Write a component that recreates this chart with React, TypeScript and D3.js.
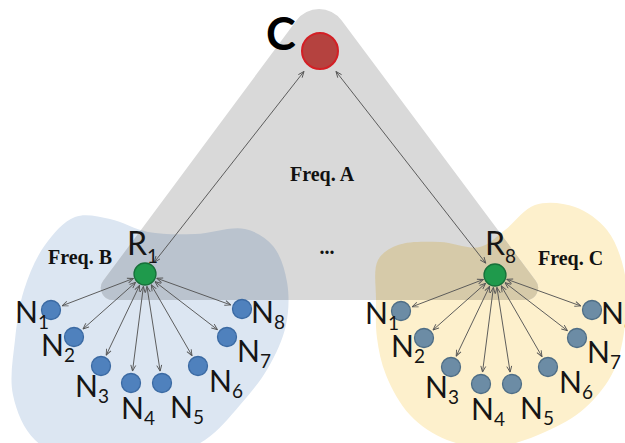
import React from 'react';
import * as d3 from 'd3';

const W = 625;
const H = 443;

// Shared-frequency region (rounded triangle)
const triangleVertices: [number, number][] = [[319, -10], [550, 300], [89, 300]];
const triangleRadii = [28, 12, 12];

// Cluster regions
const blueBlob: [number, number][] = [
  [13, 395], [15, 340], [24, 290], [45, 245], [75, 217], [110, 219], [148, 232], [195, 234],
  [245, 229], [273, 246], [287, 282], [286, 325], [268, 368], [240, 405], [205, 440],
  [150, 462], [85, 462], [35, 440],
];
const yellowBlob: [number, number][] = [
  [376, 300], [378, 260], [398, 245], [440, 242], [480, 247], [505, 230], [535, 205],
  [575, 207], [607, 230], [624, 270], [626, 315], [614, 370], [585, 408], [545, 432],
  [495, 447], [447, 440], [410, 415], [386, 375], [377, 338],
];

const controllerLabel = 'C';
const controllerPos: [number, number] = [320, 51];

const relaySubs = ['1', '8'];
const relayPos: [number, number][] = [[145, 274], [495, 275]];
const relayLabelOffset: [number, number][] = [[-18, -19], [-10, -20]];
const nodeFills = ['#4f81bd', '#6c8ca5'];
const nodeStrokes = ['#3b6aa3', '#4f6e86'];

const nodeSubs = ['1', '2', '3', '4', '5', '6', '7', '8'];
const nodeDx = [-94, -71, -44, -14, 17, 53, 82, 97];
const nodeDy = [36, 63, 92, 109, 109, 92, 63, 35];
const nodeLabelDx = [-36, -33, -26, -10, 8, 11, 10, 9];
const nodeLabelDy = [13, 19, 31, 36, 35, 26, 25, 14];

const freqLabels = ['Freq. A', 'Freq. B', 'Freq. C'];
const freqPos: [number, number][] = [[290, 181], [48, 264], [538, 265]];
const ellipsis = '...';

const SANS = "Lato, 'Open Sans', 'DejaVu Sans', sans-serif";
const SERIF = "'Liberation Serif', 'DejaVu Serif', serif";

function roundedTriangle(v: [number, number][], r: number[]) {
  const [A, B, C] = v;
  const p = d3.path();
  p.moveTo((B[0] + C[0]) / 2, B[1]);
  p.arcTo(B[0], B[1], A[0], A[1], r[1]);
  p.arcTo(A[0], A[1], C[0], C[1], r[0]);
  p.arcTo(C[0], C[1], B[0], B[1], r[2]);
  p.closePath();
  return p.toString();
}

function seg(from: [number, number], to: [number, number], g0: number, g1: number) {
  const dx = to[0] - from[0];
  const dy = to[1] - from[1];
  const L = Math.hypot(dx, dy);
  const ux = dx / L;
  const uy = dy / L;
  return {
    x1: from[0] + ux * g0,
    y1: from[1] + uy * g0,
    x2: to[0] - ux * g1,
    y2: to[1] - uy * g1,
  };
}

export default function App() {
  const blob = d3.line().curve(d3.curveCatmullRomClosed.alpha(0.5));
  const tri = roundedTriangle(triangleVertices, triangleRadii);
  const R_RELAY = 11;
  const R_NODE = 9.5;
  const R_CTRL = 18;

  return (
    <svg width={W} height={H} style={{ position: 'absolute', left: 0, top: 0, background: '#fff' }}>
      <defs>
        <clipPath id="triClip">
          <path d={tri} />
        </clipPath>
        <marker id="ah" viewBox="0 0 10 10" refX={9.5} refY={5} markerWidth={7} markerHeight={7}
          markerUnits="userSpaceOnUse" orient="auto-start-reverse">
          <path d="M1,1.5 L9.5,5 L1,8.5" fill="none" stroke="#555" strokeWidth={1.3} />
        </marker>
      </defs>

      {/* light cluster regions */}
      <path d={blob(blueBlob) as string} fill="#dce6f2" />
      <path d={blob(yellowBlob) as string} fill="#fdf0cc" />
      {/* shared region */}
      <path d={tri} fill="#d9d9d9" />
      {/* overlaps */}
      <g clipPath="url(#triClip)">
        <path d={blob(blueBlob) as string} fill="#bac3ce" />
        <path d={blob(yellowBlob) as string} fill="#d6caa9" />
      </g>

      {/* controller to relay links */}
      {relayPos.map((rp, i) => {
        const s = seg(controllerPos, rp, R_CTRL + 8, R_RELAY + 4);
        return (
          <line key={'cl' + i} {...s} stroke="#555" strokeWidth={0.95}
            markerStart="url(#ah)" markerEnd="url(#ah)" />
        );
      })}

      {/* relay to node links */}
      {relayPos.map((rp, ci) =>
        nodeSubs.map((n, j) => {
          const np: [number, number] = [rp[0] + nodeDx[j], rp[1] + nodeDy[j]];
          const s = seg(rp, np, R_RELAY + 1.5, R_NODE + 2.5);
          return (
            <line key={'l' + ci + '-' + j} {...s} stroke="#555" strokeWidth={0.95}
              markerStart="url(#ah)" markerEnd="url(#ah)" />
          );
        })
      )}

      {/* nodes */}
      {relayPos.map((rp, ci) =>
        nodeSubs.map((n, j) => {
          const nx = rp[0] + nodeDx[j];
          const ny = rp[1] + nodeDy[j];
          return (
            <g key={'n' + ci + '-' + j}>
              <circle cx={nx} cy={ny} r={R_NODE} fill={nodeFills[ci]} stroke={nodeStrokes[ci]} strokeWidth={1.3} />
              <text x={nx + nodeLabelDx[j]} y={ny + nodeLabelDy[j]} fontFamily={SANS} fontSize={30} fill="#151515">
                N<tspan fontSize={19} dy={6}>{n}</tspan>
              </text>
            </g>
          );
        })
      )}

      {/* relays */}
      {relayPos.map((rp, i) => (
        <g key={'r' + i}>
          <circle cx={rp[0]} cy={rp[1]} r={R_RELAY} fill="#1f9a4c" stroke="#17703a" strokeWidth={1.3} />
          <text x={rp[0] + relayLabelOffset[i][0]} y={rp[1] + relayLabelOffset[i][1]} fontFamily={SANS}
            fontSize={32} fill="#151515">
            R<tspan fontSize={19} dy={8}>{relaySubs[i]}</tspan>
          </text>
        </g>
      ))}

      {/* controller */}
      <circle cx={controllerPos[0]} cy={controllerPos[1]} r={R_CTRL} fill="#b5423f" stroke="#d41f25" strokeWidth={2} />
      <text x={controllerPos[0] - 54} y={controllerPos[1] - 1} fontFamily={SANS} fontWeight={700}
        fontSize={45} fill="#000">{controllerLabel}</text>

      {/* frequency labels */}
      {freqLabels.map((f, i) => (
        <text key={'f' + i} x={freqPos[i][0]} y={freqPos[i][1]} fontFamily={SERIF} fontWeight={700}
          fontSize={20} fill="#111">{f}</text>
      ))}
      <text x={327} y={254} textAnchor="middle" fontFamily={SERIF} fontWeight={700} fontSize={20} fill="#111">
        {ellipsis}
      </text>
    </svg>
  );
}
